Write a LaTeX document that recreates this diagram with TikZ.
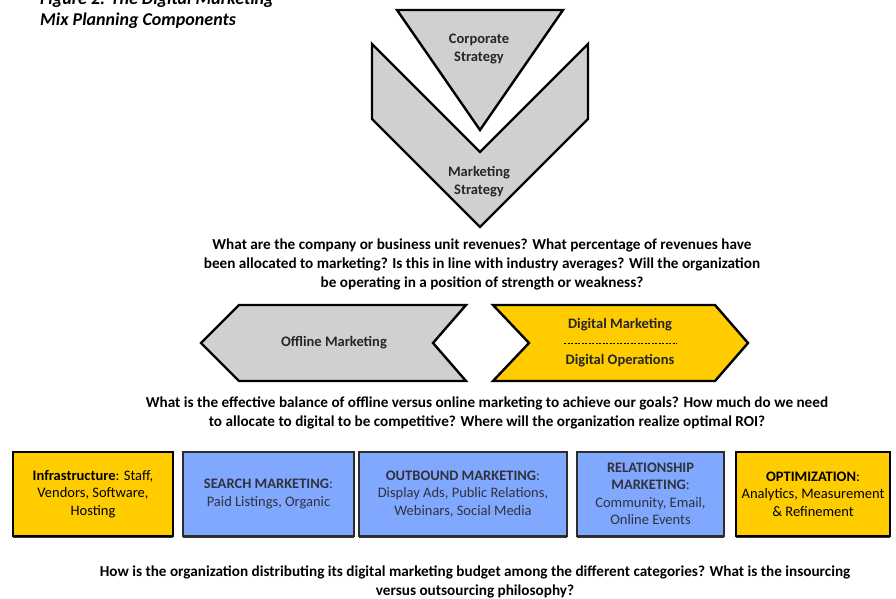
\documentclass[tikz,border=0pt]{standalone}
\usepackage{fontspec}
\setmainfont{Carlito}
\usetikzlibrary{shadows}

\definecolor{chevgray}{RGB}{208,208,208}
\definecolor{digiyellow}{RGB}{255,204,0}
\definecolor{mixblue}{RGB}{128,168,255}
\definecolor{boxedge}{RGB}{45,45,45}
\definecolor{boxtext}{RGB}{50,50,60}

\tikzset{
  shapeline/.style={draw=black, line width=2.4pt, line join=miter},
  question/.style={font=\bfseries\fontsize{15.2}{19}\selectfont, align=center, inner sep=0pt},
  shapelabel/.style={font=\bfseries\fontsize{14.5}{18}\selectfont, align=center, text=black!85},
  mixbox/.style={line width=2.2pt, minimum height=84pt, align=center, inner sep=2pt,
    font=\fontsize{14.5}{17.5}\selectfont,
    drop shadow={shadow xshift=0pt, shadow yshift=-2pt, fill=black!80, opacity=1}},
  yellowbox/.style={mixbox, draw=black, fill=digiyellow, text=black},
  bluebox/.style={mixbox, draw=boxedge, fill=mixblue, text=boxtext},
}

\begin{document}
\begin{tikzpicture}[x=1pt, y=-1pt]
\useasboundingbox (0,0) rectangle (896,599);

% title, top line is cut by the page
\node[anchor=base west, font=\bfseries\itshape\fontsize{18}{20}\selectfont, inner sep=0pt] (title) at (40,5) {Figure 2: The Digital Marketing};
\node[anchor=base west, font=\bfseries\itshape\fontsize{18}{20}\selectfont, inner sep=0pt] (title2) at (40,26) {Mix Planning Components};

% strategy chevrons
\draw[shapeline, fill=chevgray] (372,44) -- (480,152) -- (588,44) -- (588,119) -- (480,227) -- (372,119) -- cycle;
\draw[shapeline, fill=chevgray] (397,10) -- (563,10) -- (480,130) -- cycle;
\node[shapelabel] (corp) at (479,49) {Corporate\\Strategy};
\node[shapelabel] (mkt) at (479,182) {Marketing\\Strategy};

\node[question] (q1) at (482,264) {What are the company or business unit revenues? What percentage of revenues have\\
been allocated to marketing? Is this in line with industry averages? Will the organization\\
be operating in a position of strength or weakness?};

% offline / digital arrows
\draw[shapeline, fill=chevgray] (201,343) -- (239,305) -- (466,305) -- (433,343) -- (466,381) -- (239,381) -- cycle;
\draw[shapeline, fill=digiyellow] (493,305) -- (715,305) -- (748,343) -- (715,381) -- (493,381) -- (529,343) -- cycle;
\node[shapelabel] (offline) at (334,343) {Offline Marketing};
\node[shapelabel] (digmkt) at (620,325) {Digital Marketing};
\node[shapelabel] (digops) at (620,361) {Digital Operations};
\draw[dashed, line width=0.8pt, dash pattern=on 2pt off 1.5pt] (564,343) -- (677,343);

\node[question] (q2) at (487,413) {What is the effective balance of offline versus online marketing to achieve our goals? How much do we need\\
to allocate to digital to be competitive? Where will the organization realize optimal ROI?};

% budget categories
\node[yellowbox, minimum width=160pt] (infra) at (93,494) {\textbf{Infrastructure}: Staff,\\ Vendors, Software,\\ Hosting};
\node[bluebox, minimum width=171pt] (search) at (268.5,494) {\textbf{SEARCH MARKETING}:\\ Paid Listings, Organic};
\node[bluebox, minimum width=208pt] (outbound) at (463,494) {\textbf{OUTBOUND MARKETING}:\\ Display Ads, Public Relations,\\ Webinars, Social Media};
\node[bluebox, minimum width=147pt] (relation) at (650.5,494) {\textbf{RELATIONSHIP}\\ \textbf{MARKETING}:\\ Community, Email,\\ Online Events};
\node[yellowbox, minimum width=154pt] (optim) at (813,494) {\textbf{OPTIMIZATION}:\\ Analytics, Measurement\\ \& Refinement};

\node[question] (q3) at (475,582) {How is the organization distributing its digital marketing budget among the different categories? What is the insourcing\\
versus outsourcing philosophy?};
\end{tikzpicture}
\end{document}
